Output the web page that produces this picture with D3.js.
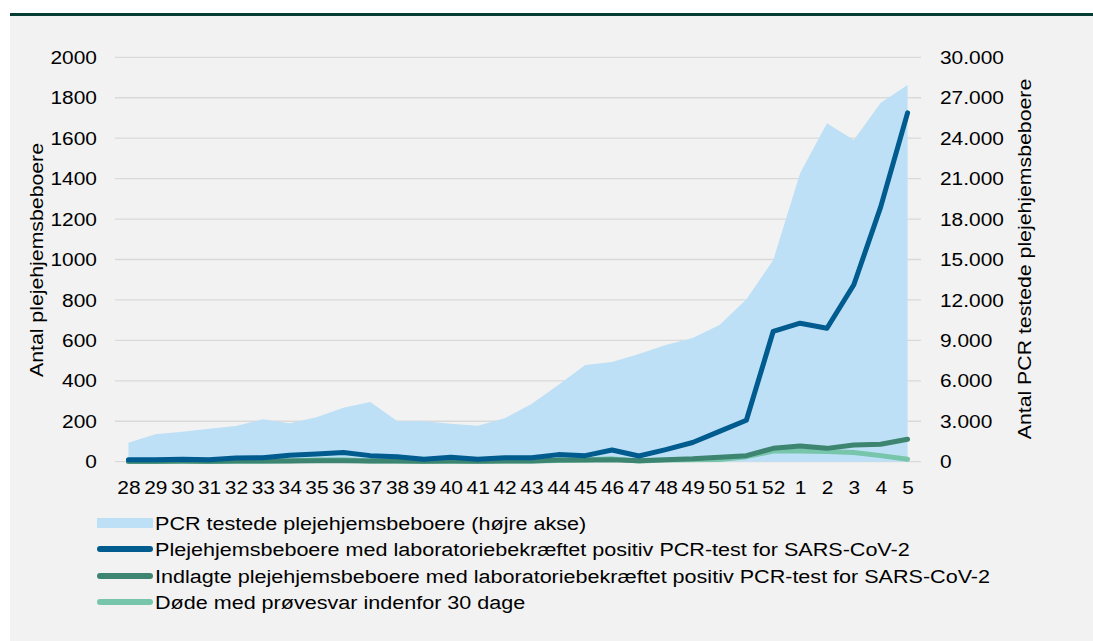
<!DOCTYPE html>
<html>
<head>
<meta charset="utf-8">
<script src="https://cdn.jsdelivr.net/npm/d3@7"></script>
<style>
  html, body { margin: 0; padding: 0; background: #ffffff; }
  svg { display: block; font-family: "Liberation Sans", Arial, sans-serif; }
</style>
</head>
<body>
<svg id="chart" width="1093" height="641"></svg>
<script>
// ---- data ----
const weeks = ["28","29","30","31","32","33","34","35","36","37","38","39","40","41","42","43","44","45","46","47","48","49","50","51","52","1","2","3","4","5"];
const pcrTested = [1410,2030,2225,2450,2650,3145,2850,3290,4005,4430,3020,3000,2820,2670,3220,4280,5690,7170,7400,7990,8660,9180,10150,12050,14960,21390,25100,23860,26630,27940];
const positive = [10,10,12,10,18,20,32,38,46,30,25,12,22,12,20,20,35,30,58,28,60,95,150,205,645,685,660,875,1260,1725];
const hospitalized = [2,2,3,2,3,3,4,5,5,3,3,2,3,2,3,3,8,8,10,5,10,14,22,30,66,78,66,83,86,111];
const deaths = [1,1,2,1,2,2,5,8,10,3,3,2,2,2,3,3,6,8,14,3,8,10,11,25,53,53,50,45,30,12];
const leftTicks = [0,200,400,600,800,1000,1200,1400,1600,1800,2000];
const rightTicks = [0,3000,6000,9000,12000,15000,18000,21000,24000,27000,30000];
const legendLabels = [
  "PCR testede plejehjemsbeboere (højre akse)",
  "Plejehjemsbeboere med laboratoriebekræftet positiv PCR-test for SARS-CoV-2",
  "Indlagte plejehjemsbeboere med laboratoriebekræftet positiv PCR-test for SARS-CoV-2",
  "Døde med prøvesvar indenfor 30 dage"
];

const colors = {
  area: "#bde0f6",
  positive: "#005b8e",
  hosp: "#3d8570",
  deaths: "#77c5aa"
};

const svg = d3.select("#chart");
const W = 1093, H = 641;
const fontSize = 19;
const stretch = "scale(1.1,1)";
const stretchLegend = "scale(1.135,1)";
const stretchTitle = "scale(1.12,1)";

// background panel & top bar
svg.append("rect").attr("x", 10).attr("y", 16).attr("width", W - 10).attr("height", H - 16).attr("fill", "#f2f2f2");
svg.append("rect").attr("x", 10).attr("y", 13).attr("width", W - 10).attr("height", 3).attr("fill", "#053d34");

const plot = { left: 115, right: 921, top: 57.3, bottom: 461.7 };

const x = d3.scalePoint().domain(weeks).range([plot.left, plot.right]).padding(0.5);
const yL = d3.scaleLinear().domain([0, 2000]).range([plot.bottom, plot.top]);
const yR = d3.scaleLinear().domain([0, 30000]).range([plot.bottom, plot.top]);

// gridlines
svg.append("g").selectAll("line").data(leftTicks).join("line")
  .attr("x1", plot.left).attr("x2", plot.right)
  .attr("y1", d => yL(d)).attr("y2", d => yL(d))
  .attr("stroke", "#d9d9d9").attr("stroke-width", 1.3);

// area
const area = d3.area()
  .x((d, i) => x(weeks[i]))
  .y0(yR(0))
  .y1(d => yR(d));
svg.append("path").datum(pcrTested).attr("d", area).attr("fill", colors.area);

// lines
function drawLine(data, color) {
  const line = d3.line().x((d, i) => x(weeks[i])).y(d => yL(d));
  svg.append("path").datum(data).attr("d", line)
    .attr("fill", "none").attr("stroke", color).attr("stroke-width", 5)
    .attr("stroke-linejoin", "round").attr("stroke-linecap", "round");
}
drawLine(deaths, colors.deaths);
drawLine(hospitalized, colors.hosp);
drawLine(positive, colors.positive);

function styleTicks(g) {
  g.select(".domain").remove();
  g.selectAll("text").attr("font-size", fontSize).attr("fill", "#000")
    .attr("font-family", "Liberation Sans, Arial, sans-serif")
    .attr("transform", stretch);
}

// left axis
const gL = svg.append("g").attr("transform", `translate(97,0)`)
  .call(d3.axisLeft(yL).tickValues(leftTicks).tickSize(0).tickPadding(0).tickFormat(d3.format("d")));
styleTicks(gL);

// right axis
const fmtDK = d => d === 0 ? "0" : d3.format(",")(d).replace(/,/g, ".");
const gR = svg.append("g").attr("transform", `translate(940,0)`)
  .call(d3.axisRight(yR).tickValues(rightTicks).tickSize(0).tickPadding(0).tickFormat(fmtDK));
styleTicks(gR);

// x axis
const gX = svg.append("g").attr("transform", `translate(0,${plot.bottom})`)
  .call(d3.axisBottom(x).tickSize(0).tickPadding(19));
styleTicks(gX);

// axis titles
svg.append("text").attr("transform", "translate(43,260) rotate(-90) " + stretchTitle)
  .attr("text-anchor", "middle").attr("font-size", fontSize).attr("fill", "#000")
  .text("Antal plejehjemsbeboere");
svg.append("text").attr("transform", "translate(1031,259) rotate(-90) " + stretchTitle)
  .attr("text-anchor", "middle").attr("font-size", fontSize).attr("fill", "#000")
  .text("Antal PCR testede plejehjemsbeboere");

// legend
const legY = [523, 549, 576, 602];
const legColors = [colors.area, colors.positive, colors.hosp, colors.deaths];
const leg = svg.append("g");
legendLabels.forEach((lab, i) => {
  if (i === 0) {
    leg.append("rect").attr("x", 97).attr("y", legY[i] - 5).attr("width", 56).attr("height", 10).attr("fill", legColors[i]);
  } else {
    leg.append("line").attr("x1", 100).attr("x2", 150).attr("y1", legY[i]).attr("y2", legY[i])
      .attr("stroke", legColors[i]).attr("stroke-width", 6).attr("stroke-linecap", "round");
  }
  leg.append("text").attr("transform", `translate(155,${legY[i]}) ${stretchLegend}`).attr("dy", "0.35em")
    .attr("font-size", fontSize).attr("fill", "#000").text(lab);
});
</script>
</body>
</html>
